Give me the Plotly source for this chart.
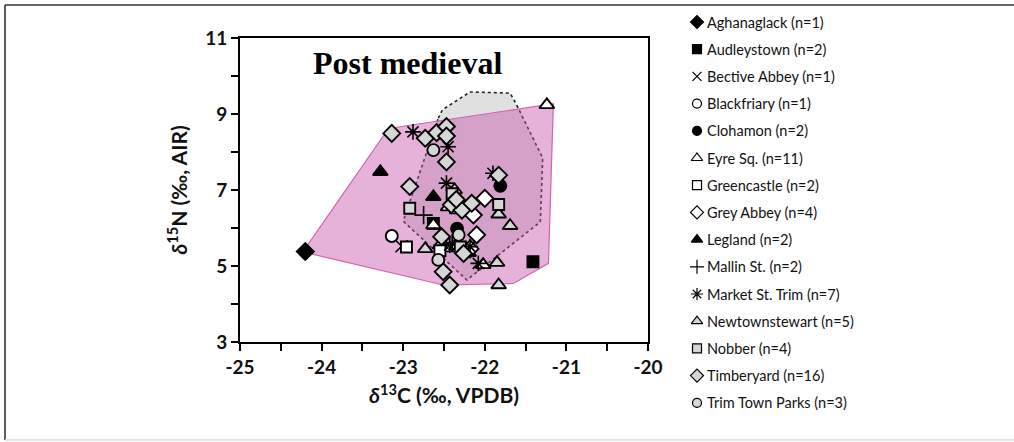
import plotly.graph_objects as go

W, H = 1014, 442

# ---------------- data ----------------
sites = ["Aghanaglack", "Audleystown", "Bective Abbey", "Blackfriary", "Clohamon",
         "Eyre Sq.", "Greencastle", "Grey Abbey", "Legland", "Mallin St.",
         "Market St. Trim", "Newtownstewart", "Nobber", "Timberyard", "Trim Town Parks"]

aghanaglack_x = [-24.20]
aghanaglack_y = [5.38]
audleystown_x = [-21.41, -22.63]
audleystown_y = [5.11, 6.12]
bective_x = [-23.02]
bective_y = [5.52]
blackfriary_x = [-23.14]
blackfriary_y = [5.79]
clohamon_x = [-21.81, -22.34]
clohamon_y = [7.11, 5.98]
eyre_x = [-21.24, -22.37, -22.34, -22.63, -22.43, -22.35, -22.28, -22.02, -22.20, -22.45, -22.55]
eyre_y = [9.24, 7.00, 6.47, 6.08, 5.47, 5.52, 5.45, 5.03, 5.35, 6.55, 5.55]
greencastle_x = [-22.96, -22.55]
greencastle_y = [5.50, 5.40]
greyabbey_x = [-22.00, -22.10, -22.14, -22.18]
greyabbey_y = [6.78, 5.82, 6.34, 5.45]
legland_x = [-23.28, -22.63]
legland_y = [7.48, 6.82]
mallin_x = [-22.75, -22.40]
mallin_y = [6.34, 5.60]
market_x = [-22.88, -22.45, -22.47, -21.90, -22.08, -22.43, -22.18]
market_y = [8.53, 8.14, 7.18, 7.44, 5.07, 5.55, 5.51]
newtown_x = [-21.83, -21.69, -21.85, -21.83, -22.73]
newtown_y = [6.36, 6.06, 5.09, 4.50, 5.45]
nobber_x = [-21.83, -22.92, -22.40, -22.30]
nobber_y = [6.62, 6.52, 6.90, 5.50]
timberyard_x = [-23.14, -22.73, -22.59, -22.47, -22.47, -22.47, -22.92, -21.83, -22.41, -22.28,
                -22.16, -22.53, -22.26, -22.51, -22.43, -22.35]
timberyard_y = [8.49, 8.36, 8.51, 8.67, 8.42, 7.74, 7.09, 7.39, 6.61, 6.47,
                6.65, 5.77, 5.33, 4.85, 4.50, 6.75]
trim_x = [-22.63, -22.32, -22.57]
trim_y = [8.05, 5.82, 5.16]

# comparison polygon (grey, dotted) and post-medieval hull (pink)
grey_poly_x = [-22.57, -22.52, -22.18, -21.69, -21.61, -21.29, -21.32, -22.22, -23.00, -22.71, -22.57]
grey_poly_y = [8.89, 9.11, 9.58, 9.55, 9.24, 7.84, 6.16, 4.63, 6.18, 8.00, 8.89]
pink_hull_x = [-24.23, -23.18, -21.16, -21.22, -21.65, -22.51, -24.23]
pink_hull_y = [5.37, 8.62, 9.27, 5.07, 4.54, 4.50, 5.37]

x_tick_vals = [-25, -24, -23, -22, -21, -20]
y_tick_vals = [3, 5, 7, 9, 11]
x_minor_step = 0.5
y_minor_step = 1
title_text = "Post medieval"

# plotly renders negatives with a typographic minus; show a plain hyphen like the original
x_alias = {f"\u2212{abs(v):g}": f"-{abs(v):g}" for v in x_tick_vals if v < 0}

# ---------------- styles ----------------
BLK = "black"
GRY = "#d6d6d6"
WHT = "white"
styles = [
    ("diamond", BLK), ("square", BLK), ("x-thin", None), ("circle", WHT), ("circle", BLK),
    ("triangle-up", WHT), ("square", WHT), ("diamond", WHT), ("triangle-up", BLK), ("cross-thin", None),
    ("asterisk", None), ("triangle-up", GRY), ("square", GRY), ("diamond", GRY), ("circle", GRY),
]
data_xy = [(aghanaglack_x, aghanaglack_y), (audleystown_x, audleystown_y), (bective_x, bective_y),
           (blackfriary_x, blackfriary_y), (clohamon_x, clohamon_y), (eyre_x, eyre_y),
           (greencastle_x, greencastle_y), (greyabbey_x, greyabbey_y), (legland_x, legland_y),
           (mallin_x, mallin_y), (market_x, market_y), (newtown_x, newtown_y),
           (nobber_x, nobber_y), (timberyard_x, timberyard_y), (trim_x, trim_y)]
sizes = {"diamond": 13, "square": 11, "circle": 12, "triangle-up": 13,
         "x-thin": 12, "cross-thin": 13, "asterisk": 13}
lsizes = {"diamond": 10, "square": 9, "circle": 9, "triangle-up": 10,
          "x-thin": 9, "cross-thin": 10, "asterisk": 10}

fig = go.Figure()

fig.add_trace(go.Scatter(x=grey_poly_x, y=grey_poly_y, mode="lines", fill="toself",
                         fillcolor="rgb(224,224,224)",
                         line=dict(color="#222", width=1.6, dash="dot"),
                         hoverinfo="skip", showlegend=False))
fig.add_trace(go.Scatter(x=pink_hull_x, y=pink_hull_y, mode="lines", fill="toself",
                         fillcolor="rgba(200,80,168,0.44)",
                         line=dict(color="rgb(208,100,172)", width=1.2),
                         hoverinfo="skip", showlegend=False))

for name, (sym, fc), (xs, ys) in zip(sites, styles, data_xy):
    if fc is None:
        mk = dict(symbol=sym, size=sizes[sym], color=BLK, line=dict(color=BLK, width=1.6))
    else:
        mk = dict(symbol=sym, size=sizes[sym], color=fc, line=dict(color=BLK, width=1.9))
    fig.add_trace(go.Scatter(x=xs, y=ys, mode="markers", marker=mk, name=name,
                             showlegend=False, cliponaxis=False))

# custom legend (markers on a hidden helper axis, labels as annotations)
labels = [f"{n} (n={len(xy[0])})" for n, xy in zip(sites, data_xy)]
row_idx = list(range(len(sites)))
for i, ((sym, fc), lab) in enumerate(zip(styles, labels)):
    if fc is None:
        mk = dict(symbol=sym, size=lsizes[sym], color=BLK, line=dict(color=BLK, width=1.2))
    else:
        mk = dict(symbol=sym, size=lsizes[sym], color=fc, line=dict(color=BLK, width=1.2))
    fig.add_trace(go.Scatter(x=[17], y=[row_idx[i]], mode="markers", marker=mk,
                             xaxis="x2", yaxis="y2", showlegend=False, cliponaxis=False,
                             hoverinfo="skip"))
    fig.add_annotation(x=25, y=row_idx[i], xref="x2", yref="y2", text=lab, showarrow=False,
                       xanchor="left", yanchor="middle",
                       font=dict(family="Lato", size=14.5, color="#111"))

ROW0, ROWH = 22, 27.2
axis_font = dict(family="Lato", size=19, color="#111", weight="bold")
fig.update_layout(
    width=W, height=H, margin=dict(l=0, r=0, t=0, b=0),
    paper_bgcolor="white", plot_bgcolor="white", template="none",
    showlegend=False,
    xaxis=dict(domain=[240 / W, 648 / W], range=[x_tick_vals[0], x_tick_vals[-1]],
               tickmode="linear", tick0=x_tick_vals[0], dtick=x_tick_vals[1] - x_tick_vals[0],
               labelalias=x_alias,
               ticks="outside", ticklen=7, tickwidth=1.8, tickcolor=BLK,
               minor=dict(dtick=x_minor_step, ticks="outside", ticklen=7, tickwidth=1.8,
                          tickcolor=BLK, showgrid=False),
               showline=True, linecolor=BLK, linewidth=2, mirror=True, showgrid=False,
               zeroline=False, tickfont=axis_font, automargin=False,
               title=dict(text="<b><i>δ</i><sup>13</sup>C (‰, VPDB)</b>",
                          font=dict(family="Lato", size=21, color="#111"), standoff=12)),
    yaxis=dict(domain=[1 - 342 / H, 1 - 38 / H], range=[y_tick_vals[0], y_tick_vals[-1]],
               tickmode="linear", tick0=y_tick_vals[0], dtick=y_tick_vals[1] - y_tick_vals[0],
               ticks="outside", ticklen=7, tickwidth=1.8, tickcolor=BLK,
               minor=dict(dtick=y_minor_step, ticks="outside", ticklen=7, tickwidth=1.8,
                          tickcolor=BLK, showgrid=False),
               showline=True, linecolor=BLK, linewidth=2, mirror=True, showgrid=False,
               zeroline=False, tickfont=axis_font, automargin=False,
               title=dict(text="<b><i>δ</i><sup>15</sup>N (‰, AIR)</b>",
                          font=dict(family="Lato", size=21, color="#111"), standoff=12)),
    xaxis2=dict(domain=[680 / W, 1.0], range=[0, W - 680], visible=False, fixedrange=True,
                anchor="y2"),
    yaxis2=dict(domain=[0, 1], range=[(H - ROW0) / ROWH, -ROW0 / ROWH], visible=False,
                fixedrange=True, anchor="x2"),
)

fig.add_annotation(text=f"<b>{title_text}</b>", x=407 / W, y=1 - 63 / H, xref="paper", yref="paper",
                   showarrow=False, xanchor="center", yanchor="middle",
                   font=dict(family="Liberation Serif", size=32, color="black"))

# outer frame of the figure panel
fig.add_shape(type="line", xref="paper", yref="paper", x0=5 / W, x1=1, y0=1 - 5 / H, y1=1 - 5 / H,
              line=dict(color="#333", width=1.6))
fig.add_shape(type="line", xref="paper", yref="paper", x0=5 / W, x1=5 / W, y0=1 - 5 / H, y1=1 - 440 / H,
              line=dict(color="#333", width=1.6))
fig.add_shape(type="line", xref="paper", yref="paper", x0=5 / W, x1=1, y0=1 - 440 / H, y1=1 - 440 / H,
              line=dict(color="#ddd", width=1.5))

fig.write_html("out.html")
